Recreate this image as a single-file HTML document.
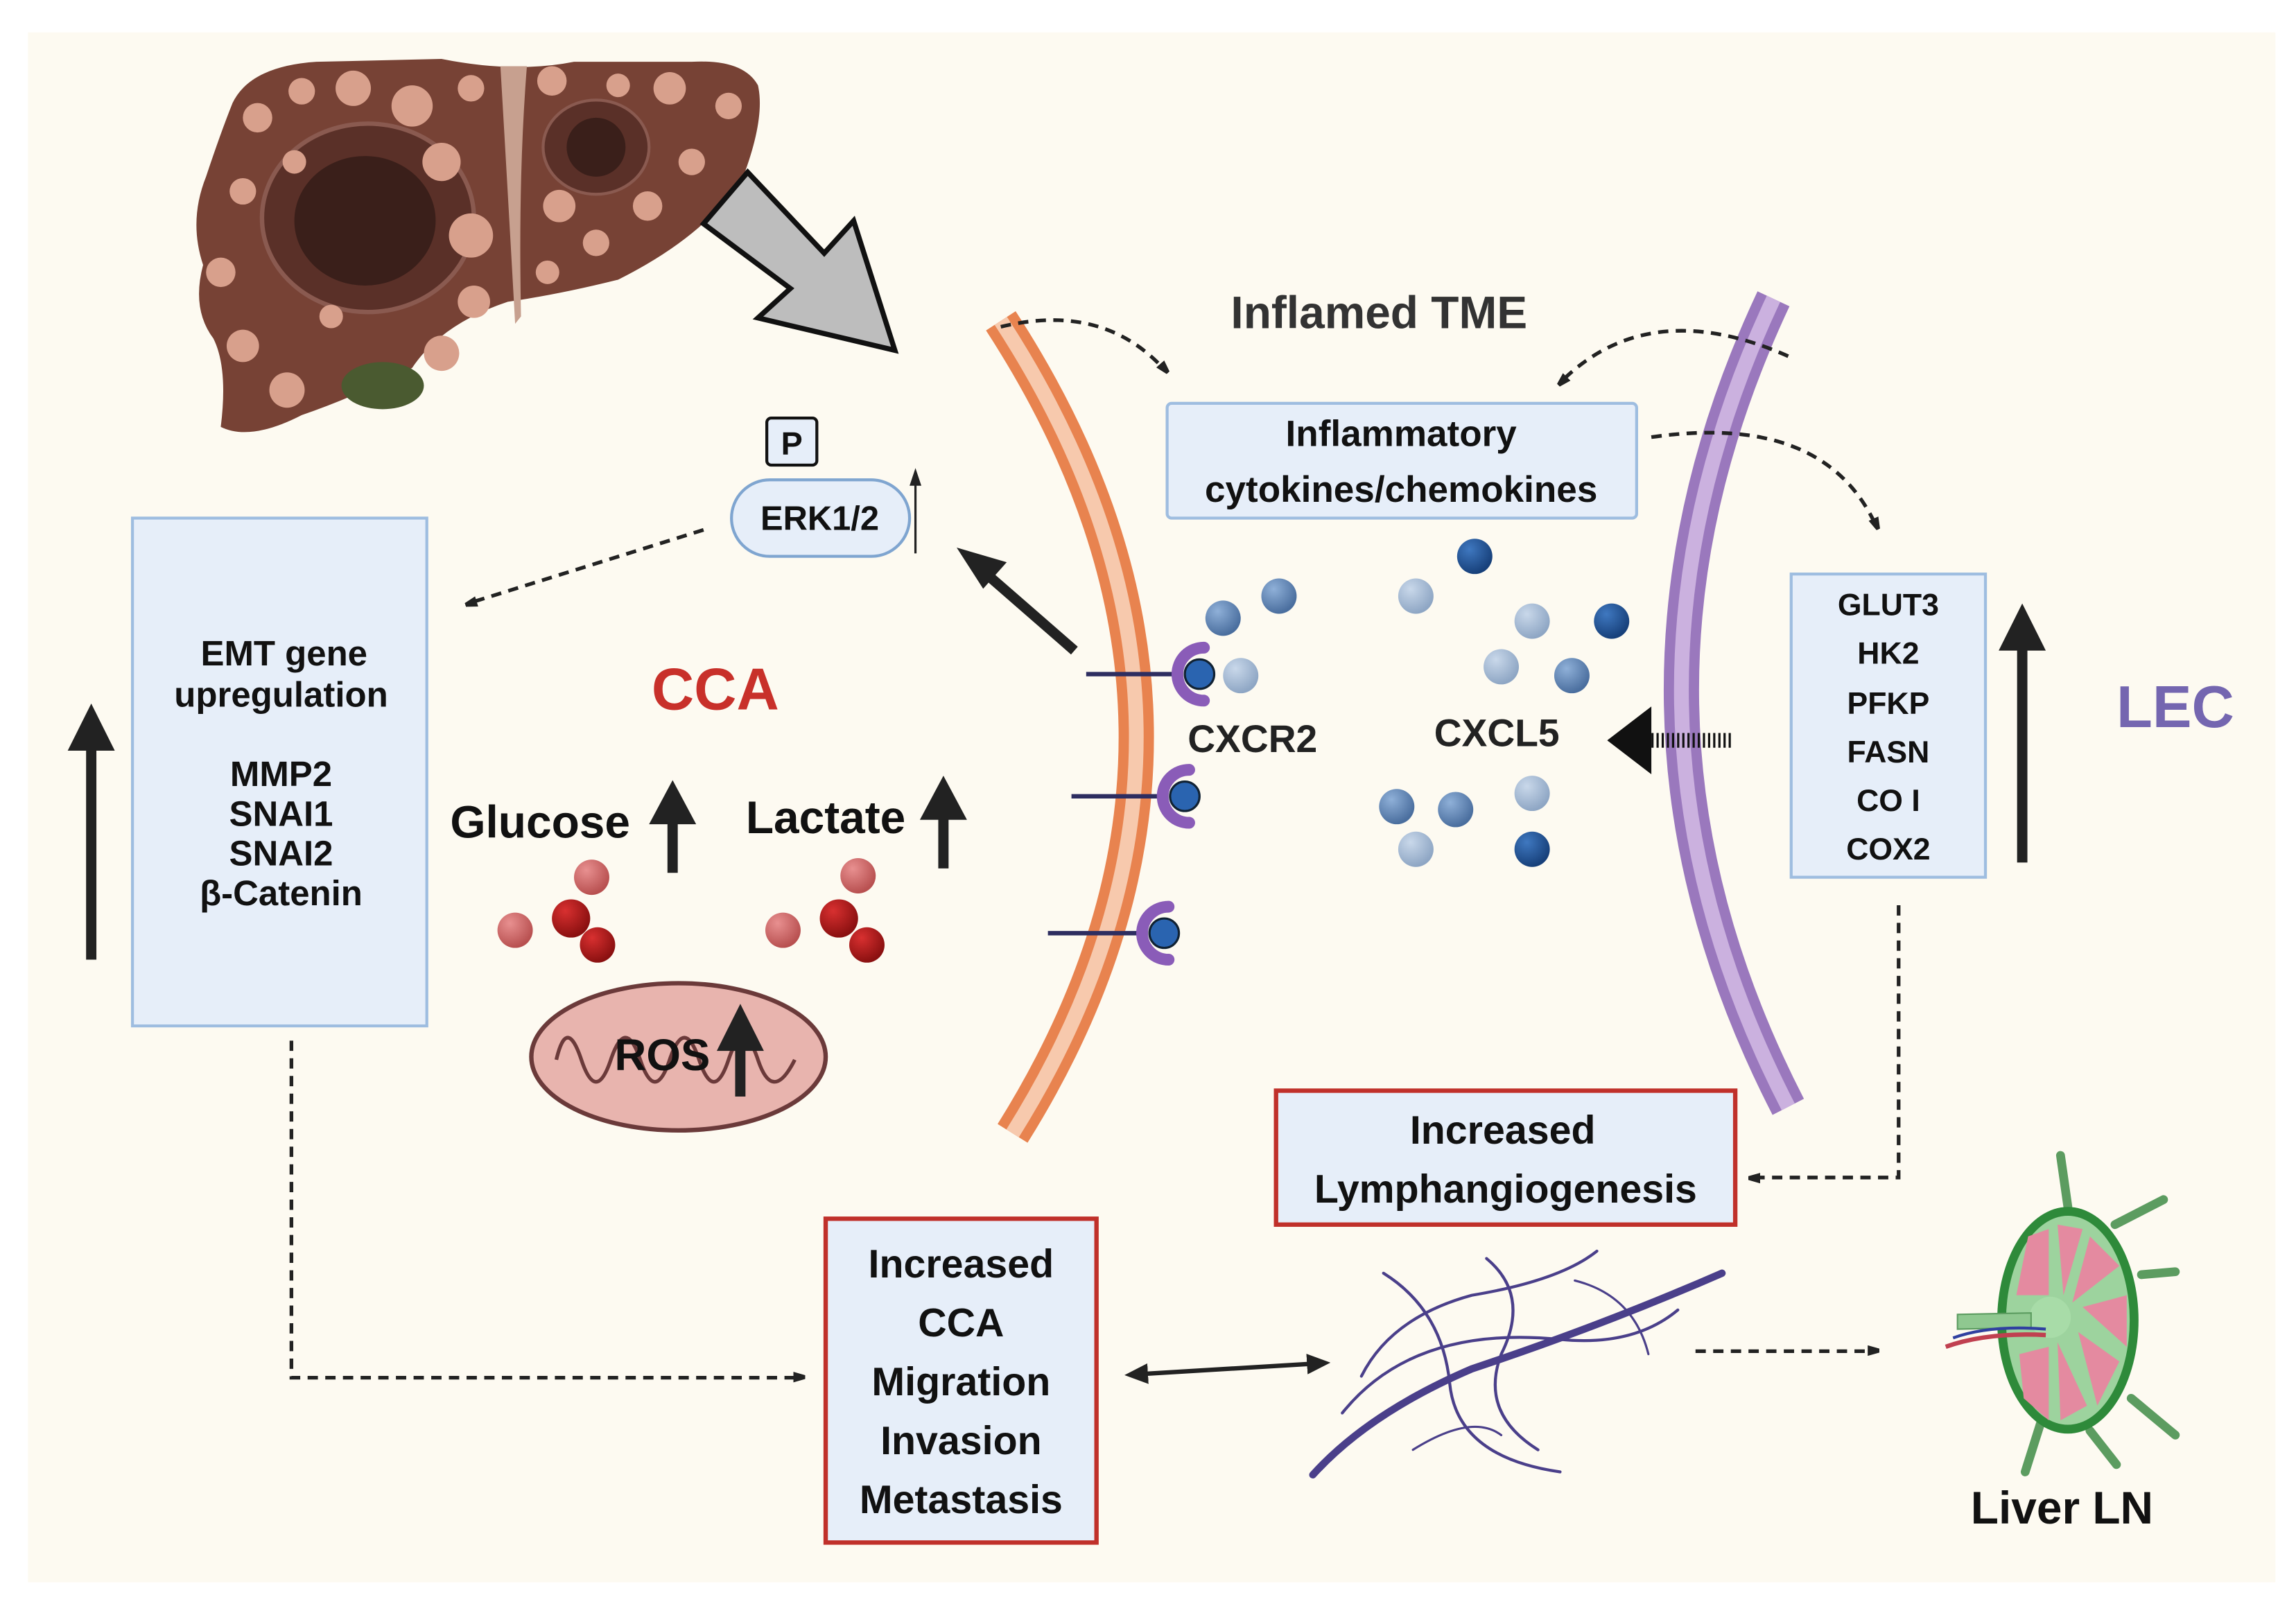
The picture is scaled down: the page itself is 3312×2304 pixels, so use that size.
<!DOCTYPE html>
<html><head><meta charset="utf-8"><style>
html,body{margin:0;padding:0;background:#fff;}
svg{display:block;}
text{font-family:"Liberation Sans",sans-serif;font-weight:bold;}
</style></head><body>
<svg width="3312" height="2304" viewBox="0 0 1560 1085" preserveAspectRatio="none" xmlns="http://www.w3.org/2000/svg">
<defs>
<marker id="ah" markerWidth="8" markerHeight="8" refX="6" refY="4" orient="auto" markerUnits="userSpaceOnUse"><path d="M0,0 L14,4 L0,8 Z" transform="scale(0.9)" fill="#222"/></marker>
<marker id="ah2" markerWidth="16" markerHeight="14" refX="12" refY="7" orient="auto" markerUnits="userSpaceOnUse"><path d="M0,0 L16,7 L0,14 Z" fill="#222"/></marker>
<marker id="ah2s" markerWidth="16" markerHeight="14" refX="4" refY="7" orient="auto" markerUnits="userSpaceOnUse"><path d="M16,0 L0,7 L16,14 Z" fill="#222"/></marker>
<radialGradient id="bl1" cx="0.35" cy="0.3" r="0.7"><stop offset="0" stop-color="#8fb0d8"/><stop offset="1" stop-color="#4a6e9e"/></radialGradient>
<radialGradient id="bl2" cx="0.35" cy="0.3" r="0.7"><stop offset="0" stop-color="#c9d8ea"/><stop offset="1" stop-color="#8ea6c4"/></radialGradient>
<radialGradient id="bl3" cx="0.35" cy="0.3" r="0.7"><stop offset="0" stop-color="#3f78c0"/><stop offset="1" stop-color="#17407a"/></radialGradient>
<radialGradient id="rd1" cx="0.35" cy="0.3" r="0.7"><stop offset="0" stop-color="#e89090"/><stop offset="1" stop-color="#b85050"/></radialGradient>
<radialGradient id="rd2" cx="0.35" cy="0.3" r="0.7"><stop offset="0" stop-color="#d83030"/><stop offset="1" stop-color="#8a1010"/></radialGradient>
</defs>
<rect x="0" y="0" width="1560" height="1085" fill="#fff"/>
<rect x="19" y="22" width="1527" height="1053" fill="#fdfaf1"/>

<!-- liver -->
<path d="M158,70 Q170,45 215,42 L300,40 Q350,50 390,42 L470,42 Q505,40 515,58 Q520,80 505,120 Q480,160 420,190 Q380,200 345,205 Q300,220 280,250 Q240,270 205,282 Q170,300 150,290 Q155,250 145,230 Q130,210 138,180 Q128,150 140,120 Q150,90 158,70 Z" fill="#774235"/>
<path d="M340,45 L358,45 Q352,120 354,215 L350,220 Q345,130 340,45Z" fill="#c7a08f"/>
<ellipse cx="250" cy="148" rx="72" ry="64" fill="#5a3028" stroke="#8a5a50" stroke-width="3"/>
<ellipse cx="248" cy="150" rx="48" ry="44" fill="#3a1f1a"/>
<ellipse cx="405" cy="100" rx="36" ry="32" fill="#5a3028" stroke="#8a5a50" stroke-width="2"/>
<ellipse cx="405" cy="100" rx="20" ry="20" fill="#3a1f1a"/>
<ellipse cx="260" cy="262" rx="28" ry="16" fill="#4a5a30"/>
<g fill="#d8a08c">
<circle cx="175" cy="80" r="10"/><circle cx="205" cy="62" r="9"/><circle cx="240" cy="60" r="12"/><circle cx="280" cy="72" r="14"/><circle cx="300" cy="110" r="13"/><circle cx="320" cy="60" r="9"/>
<circle cx="165" cy="130" r="9"/><circle cx="150" cy="185" r="10"/><circle cx="165" cy="235" r="11"/><circle cx="195" cy="265" r="12"/><circle cx="320" cy="160" r="15"/><circle cx="322" cy="205" r="11"/><circle cx="300" cy="240" r="12"/>
<circle cx="375" cy="55" r="10"/><circle cx="420" cy="58" r="8"/><circle cx="455" cy="60" r="11"/><circle cx="495" cy="72" r="9"/><circle cx="380" cy="140" r="11"/><circle cx="440" cy="140" r="10"/><circle cx="470" cy="110" r="9"/><circle cx="405" cy="165" r="9"/><circle cx="372" cy="185" r="8"/><circle cx="200" cy="110" r="8"/><circle cx="225" cy="215" r="8"/>
</g>

<!-- big gray arrow -->
<polygon points="478,152 508,117 560,172 580,150 608,238 515,216 537,196" fill="#bdbdbd" stroke="#111" stroke-width="3.5" stroke-linejoin="miter"/>

<!-- membranes -->
<path d="M680,218 Q860,495 688,770" fill="none" stroke="#e8834f" stroke-width="24"/>
<path d="M680,218 Q860,495 688,770" fill="none" stroke="#f7c9ad" stroke-width="10"/>
<path d="M1205,203 Q1075,480 1215,752" fill="none" stroke="#9a78bd" stroke-width="24"/>
<path d="M1205,203 Q1075,480 1215,752" fill="none" stroke="#cbb1df" stroke-width="10"/>

<text x="937" y="223" font-size="31" fill="#333" text-anchor="middle">Inflamed TME</text>
<rect x="793" y="274" width="319" height="78" rx="3" fill="#e6eef9" stroke="#9ebde0" stroke-width="2"/>
<text x="952" y="303" font-size="25" fill="#111" text-anchor="middle">Inflammatory</text>
<text x="952" y="341" font-size="25" fill="#111" text-anchor="middle">cytokines/chemokines</text>

<!-- ERK -->
<rect x="521" y="284" width="34" height="32" rx="3" fill="#e6eef9" stroke="#111" stroke-width="2"/>
<text x="538" y="309" font-size="22" fill="#111" text-anchor="middle">P</text>
<rect x="497" y="326" width="121" height="52" rx="26" fill="#e6eef9" stroke="#7fa5d0" stroke-width="2"/>
<text x="557" y="360" font-size="23" fill="#111" text-anchor="middle">ERK1/2</text>
<line x1="622" y1="376" x2="622" y2="326" stroke="#222" stroke-width="1.5"/>
<path d="M618,330 L622,318 L626,330Z" fill="#222"/>

<!-- dashed arrows -->
<g fill="none" stroke="#222" stroke-width="2.5" stroke-dasharray="7,5">
<line x1="478" y1="360" x2="318" y2="410" marker-end="url(#ah)"/>
<path d="M680,222 Q750,205 792,252" marker-end="url(#ah)"/>
<path d="M1215,242 Q1120,200 1060,260" marker-end="url(#ah)"/>
<path d="M1122,297 Q1240,280 1275,358" marker-end="url(#ah)"/>
<path d="M1290,615 L1290,800 L1190,800" marker-end="url(#ah)"/>
<path d="M198,707 L198,936 L545,936" marker-end="url(#ah)"/>
<line x1="1152" y1="918" x2="1275" y2="918" marker-end="url(#ah)"/>
</g>

<!-- black thick arrow -->
<line x1="730" y1="442" x2="668" y2="388" stroke="#222" stroke-width="7"/>
<path d="M650,372 L684,382 L668,400Z" fill="#222"/>

<!-- EMT box -->
<rect x="90" y="352" width="200" height="345" fill="#e6eef9" stroke="#9ebde0" stroke-width="2"/>
<g font-size="24" fill="#111" text-anchor="middle">
<text x="193" y="452">EMT gene</text>
<text x="191" y="480">upregulation</text>
<text x="191" y="534">MMP2</text>
<text x="191" y="561">SNAI1</text>
<text x="191" y="588">SNAI2</text>
<text x="191" y="615">β-Catenin</text>
</g>
<line x1="62" y1="652" x2="62" y2="505" stroke="#222" stroke-width="7"/>
<path d="M46,510 L62,478 L78,510Z" fill="#222"/>

<text x="486" y="482" font-size="40" fill="#c8302a" text-anchor="middle">CCA</text>
<text x="367" y="569" font-size="31" fill="#111" text-anchor="middle">Glucose</text>
<line x1="457" y1="593" x2="457" y2="555" stroke="#222" stroke-width="7"/>
<path d="M441,560 L457,530 L473,560Z" fill="#222"/>
<text x="561" y="566" font-size="31" fill="#111" text-anchor="middle">Lactate</text>
<line x1="641" y1="590" x2="641" y2="552" stroke="#222" stroke-width="7"/>
<path d="M625,557 L641,527 L657,557Z" fill="#222"/>

<circle cx="402" cy="596" r="12" fill="url(#rd1)"/><circle cx="350" cy="632" r="12" fill="url(#rd1)"/><circle cx="388" cy="624" r="13" fill="url(#rd2)"/><circle cx="406" cy="642" r="12" fill="url(#rd2)"/>
<circle cx="583" cy="595" r="12" fill="url(#rd1)"/><circle cx="532" cy="632" r="12" fill="url(#rd1)"/><circle cx="570" cy="624" r="13" fill="url(#rd2)"/><circle cx="589" cy="642" r="12" fill="url(#rd2)"/>

<!-- mitochondria -->
<ellipse cx="461" cy="718" rx="100" ry="50" fill="#e8b4ae" stroke="#6b3a3a" stroke-width="3"/>
<path d="M378,720 Q385,690 395,720 Q405,750 415,720 Q425,690 435,720 Q445,750 455,720 Q465,690 475,720 Q485,750 495,720 Q505,690 515,720 Q525,750 540,720" fill="none" stroke="#6b3a3a" stroke-width="2.5"/>
<text x="450" y="727" font-size="30" fill="#111" text-anchor="middle">ROS</text>
<line x1="503" y1="745" x2="503" y2="710" stroke="#222" stroke-width="7"/>
<path d="M487,714 L503,682 L519,714Z" fill="#222"/>

<!-- receptors -->
<g>
<line x1="738" y1="458" x2="800" y2="458" stroke="#2d2d60" stroke-width="3"/>
<path d="M818,440 A18,18 0 1,0 818,476" fill="none" stroke="#8a5cb8" stroke-width="8" stroke-linecap="round"/>
<circle cx="815" cy="458" r="10" fill="#2a64b0" stroke="#123" stroke-width="1.5"/>
<line x1="728" y1="541" x2="790" y2="541" stroke="#2d2d60" stroke-width="3"/>
<path d="M808,523 A18,18 0 1,0 808,559" fill="none" stroke="#8a5cb8" stroke-width="8" stroke-linecap="round"/>
<circle cx="805" cy="541" r="10" fill="#2a64b0" stroke="#123" stroke-width="1.5"/>
<line x1="712" y1="634" x2="776" y2="634" stroke="#2d2d60" stroke-width="3"/>
<path d="M794,616 A18,18 0 1,0 794,652" fill="none" stroke="#8a5cb8" stroke-width="8" stroke-linecap="round"/>
<circle cx="791" cy="634" r="10" fill="#2a64b0" stroke="#123" stroke-width="1.5"/>
</g>
<text x="851" y="511" font-size="26" fill="#222" text-anchor="middle">CXCR2</text>
<text x="1017" y="507" font-size="26" fill="#222" text-anchor="middle">CXCL5</text>

<!-- blue spheres -->
<circle cx="831" cy="420" r="12" fill="url(#bl1)"/><circle cx="869" cy="405" r="12" fill="url(#bl1)"/><circle cx="843" cy="459" r="12" fill="url(#bl2)"/>
<circle cx="1002" cy="378" r="12" fill="url(#bl3)"/><circle cx="962" cy="405" r="12" fill="url(#bl2)"/><circle cx="1041" cy="422" r="12" fill="url(#bl2)"/><circle cx="1095" cy="422" r="12" fill="url(#bl3)"/>
<circle cx="1020" cy="453" r="12" fill="url(#bl2)"/><circle cx="1068" cy="459" r="12" fill="url(#bl1)"/>
<circle cx="949" cy="548" r="12" fill="url(#bl1)"/><circle cx="989" cy="550" r="12" fill="url(#bl1)"/><circle cx="1041" cy="539" r="12" fill="url(#bl2)"/><circle cx="962" cy="577" r="12" fill="url(#bl2)"/><circle cx="1041" cy="577" r="12" fill="url(#bl3)"/>

<!-- hatched arrow -->
<path d="M1092,503 L1122,480 L1122,526Z" fill="#111"/>
<line x1="1122" y1="503" x2="1178" y2="503" stroke="#111" stroke-width="10" stroke-dasharray="1.5,2"/>

<!-- GLUT box -->
<rect x="1217" y="390" width="132" height="206" fill="#e6eef9" stroke="#9ebde0" stroke-width="2"/>
<g font-size="21" fill="#111" text-anchor="middle">
<text x="1283" y="418">GLUT3</text><text x="1283" y="451">HK2</text><text x="1283" y="485">PFKP</text><text x="1283" y="518">FASN</text><text x="1283" y="551">CO I</text><text x="1283" y="584">COX2</text>
</g>
<line x1="1374" y1="586" x2="1374" y2="438" stroke="#222" stroke-width="7"/>
<path d="M1358,442 L1374,410 L1390,442Z" fill="#222"/>
<text x="1478" y="494" font-size="40" fill="#7466b0" text-anchor="middle">LEC</text>

<!-- bottom boxes -->
<rect x="867" y="741" width="312" height="91" fill="#e6eef9" stroke="#c0302a" stroke-width="3"/>
<text x="1021" y="777" font-size="27" fill="#111" text-anchor="middle">Increased</text>
<text x="1023" y="817" font-size="27" fill="#111" text-anchor="middle">Lymphangiogenesis</text>
<rect x="561" y="828" width="184" height="220" fill="#e6eef9" stroke="#c0302a" stroke-width="3"/>
<g font-size="27" fill="#111" text-anchor="middle">
<text x="653" y="868">Increased</text><text x="653" y="908">CCA</text><text x="653" y="948">Migration</text><text x="653" y="988">Invasion</text><text x="653" y="1028">Metastasis</text>
</g>
<line x1="768" y1="934" x2="900" y2="926" stroke="#222" stroke-width="3" marker-start="url(#ah2s)" marker-end="url(#ah2)"/>

<!-- lymphatic vessels -->
<g fill="none" stroke="#4a3f8a" stroke-linecap="round">
<path d="M892,1002 Q930,960 1000,930 Q1090,900 1170,865" stroke-width="5"/>
<path d="M940,865 Q980,890 985,940 Q990,990 1060,1000" stroke-width="2"/>
<path d="M1010,855 Q1040,880 1020,920 Q1005,960 1045,985" stroke-width="2"/>
<path d="M912,960 Q960,900 1060,910 Q1110,915 1140,890" stroke-width="2"/>
<path d="M925,935 Q945,895 1000,880 Q1060,870 1085,850" stroke-width="2"/>
<path d="M1070,870 Q1110,880 1120,920" stroke-width="1.5"/>
<path d="M960,985 Q1000,960 1020,975" stroke-width="1.5"/>
</g>

<!-- lymph node -->
<g>
<g stroke="#5c9c60" stroke-width="6" stroke-linecap="round">
<line x1="1405" y1="820" x2="1400" y2="785"/><line x1="1437" y1="832" x2="1470" y2="815"/><line x1="1455" y1="866" x2="1478" y2="864"/><line x1="1448" y1="950" x2="1478" y2="975"/><line x1="1420" y1="972" x2="1438" y2="995"/><line x1="1388" y1="962" x2="1376" y2="1000"/>
</g>
<ellipse cx="1405" cy="897" rx="48" ry="77" fill="#2e8a3a"/>
<ellipse cx="1405" cy="897" rx="42" ry="71" fill="#9dd39e"/>
<g fill="#e48aa0">
<path d="M1378,840 L1392,835 L1392,880 L1370,880Z"/><path d="M1398,832 L1415,835 L1402,880Z"/><path d="M1420,840 L1440,860 L1408,885Z"/><path d="M1415,888 L1445,880 L1445,915Z"/><path d="M1412,905 L1440,925 L1425,955Z"/><path d="M1398,912 L1418,955 L1400,965Z"/><path d="M1372,920 L1392,915 L1392,965 L1375,950Z"/>
</g>
<circle cx="1393" cy="895" r="14" fill="#a8dca8"/>
<path d="M1330,893 L1380,892 L1380,902 L1330,903Z" fill="#8fc890" stroke="#5c9c60" stroke-width="1"/>
<path d="M1322,915 Q1350,905 1390,907" fill="none" stroke="#c04050" stroke-width="3"/>
<path d="M1327,909 Q1352,900 1390,903" fill="none" stroke="#3040a0" stroke-width="2"/>
</g>
<text x="1401" y="1035" font-size="31" fill="#111" text-anchor="middle">Liver LN</text>
</svg>
</body></html>
